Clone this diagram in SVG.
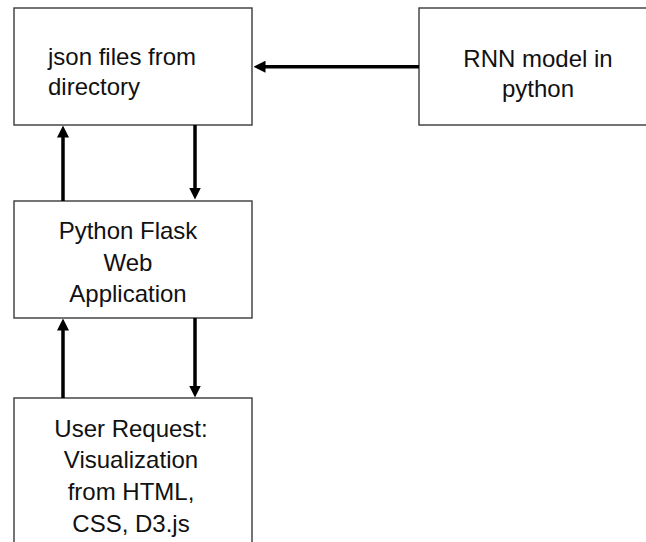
<svg xmlns="http://www.w3.org/2000/svg" width="646" height="542" viewBox="0 0 646 542">
  <style>
    .box { fill: #ffffff; stroke: #3a3a3a; stroke-width: 1.4; }
    .lbl { font-family: "Liberation Sans", Arial, sans-serif; font-size: 24px; fill: #111111; }
    .mid { text-anchor: middle; }
    .conn { stroke: #000000; stroke-width: 3.5; fill: none; marker-end: url(#head); }
  </style>
  <defs>
    <marker id="head" markerUnits="userSpaceOnUse" markerWidth="12" markerHeight="12" refX="0.5" refY="6" orient="auto" viewBox="0 0 12 12">
      <path d="M0,0 L12,6 L0,12 z" fill="#000000"/>
    </marker>
  </defs>
  <rect width="646" height="542" fill="#ffffff"/>

  <g id="json-files">
    <rect class="box" x="14" y="8" width="238" height="117"/>
    <text class="lbl" x="48" y="65">json files from</text>
    <text class="lbl" x="48" y="94.5">directory</text>
  </g>

  <g id="rnn-model">
    <rect class="box" x="419" y="8" width="240" height="117"/>
    <text class="lbl mid" x="538" y="66.5">RNN model in</text>
    <text class="lbl mid" x="538" y="96.5">python</text>
  </g>

  <g id="flask-app">
    <rect class="box" x="14" y="201" width="238" height="117"/>
    <text class="lbl mid" x="128" y="239">Python Flask</text>
    <text class="lbl mid" x="128" y="270.5">Web</text>
    <text class="lbl mid" x="128" y="302">Application</text>
  </g>

  <g id="user-request">
    <rect class="box" x="14" y="398" width="238" height="160"/>
    <text class="lbl mid" x="131" y="436.5">User Request:</text>
    <text class="lbl mid" x="131" y="468">Visualization</text>
    <text class="lbl mid" x="131" y="500">from HTML,</text>
    <text class="lbl mid" x="131" y="531.5">CSS, D3.js</text>
  </g>

  <g id="connectors">
    <line class="conn" x1="419" y1="66.7" x2="265" y2="66.7"/>
    <line class="conn" x1="63" y1="201" x2="63" y2="137"/>
    <line class="conn" x1="195" y1="125" x2="195" y2="188"/>
    <line class="conn" x1="63" y1="398" x2="63" y2="330"/>
    <line class="conn" x1="195" y1="318" x2="195" y2="386"/>
  </g>
</svg>
